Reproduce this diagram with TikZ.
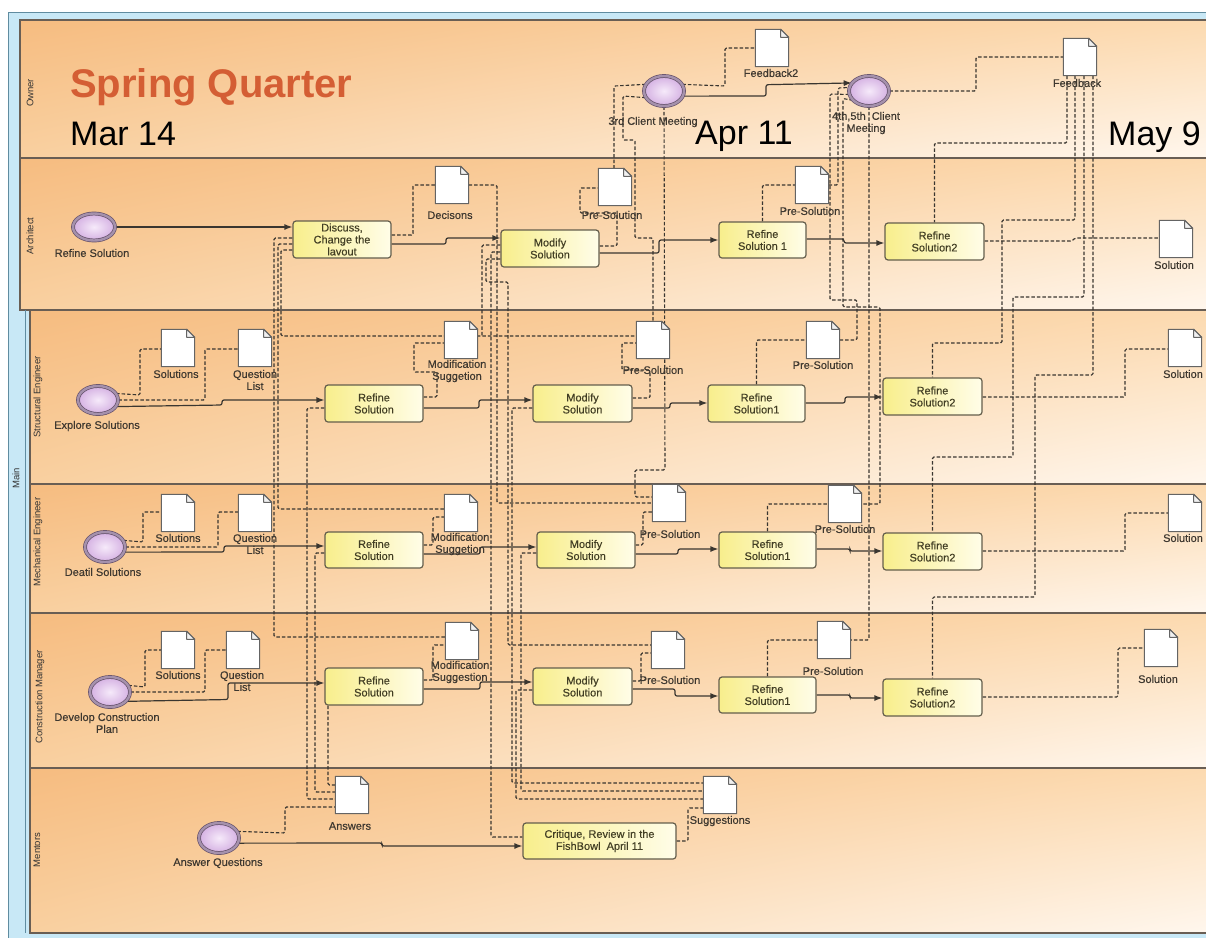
\documentclass[tikz,border=0pt]{standalone}
\usepackage{fontspec}
\setmainfont{Liberation Sans}
\newfontfamily\smallsans[FakeBold=0.3]{Liberation Sans}
\usetikzlibrary{shapes.geometric,arrows.meta,shadings}

\definecolor{poolblue}{RGB}{200,232,246}
\definecolor{poolline}{RGB}{96,140,160}
\definecolor{laneline}{RGB}{105,94,84}
\definecolor{laneUL}{RGB}{246,188,128}
\definecolor{laneUR}{RGB}{252,218,176}
\definecolor{laneLL}{RGB}{249,208,160}
\definecolor{laneLR}{RGB}{255,247,238}
\definecolor{taskL}{RGB}{248,238,140}
\definecolor{taskR}{RGB}{255,253,232}
\definecolor{taskline}{RGB}{100,94,76}
\definecolor{tasktext}{RGB}{66,62,36}
\definecolor{lbltext}{RGB}{62,56,48}
\definecolor{flowc}{RGB}{58,54,48}
\definecolor{docgray}{RGB}{100,100,100}
\definecolor{evdark}{RGB}{100,80,106}
\definecolor{evmid}{RGB}{165,145,172}
\definecolor{evin}{RGB}{246,234,250}
\definecolor{evout}{RGB}{212,176,226}
\definecolor{titleorange}{RGB}{212,94,52}

\newcommand\tsz{\smallsans\fontsize{11}{12}\selectfont}
\newcommand\lsz{\smallsans\fontsize{11}{12}\selectfont}
\newcommand\lnsz{\fontsize{9.5}{10}\selectfont}

\pgfdeclarelayer{bg}
\pgfdeclarelayer{lines}
\pgfsetlayers{bg,lines,main}

\tikzset{
  lanebox/.style={draw=laneline, line width=1.2pt,
    upper left=laneUL, upper right=laneUR, lower left=laneLL, lower right=laneLR},
  evt/.style={ellipse, minimum width=40pt, minimum height=30pt, inner sep=0pt,
    draw=evdark, line width=0.7pt, double=evmid, double distance=2.4pt,
    inner color=evin, outer color=evout},
  task/.style={rectangle, rounded corners=3pt, draw=taskline, line width=1.2pt,
    left color=taskL, right color=taskR, minimum width=98pt, minimum height=37pt,
    align=center, text=tasktext, font=\tsz, inner sep=1pt},
  docbox/.style={rectangle, minimum width=33pt, minimum height=37pt, inner sep=0pt},
  docline/.style={draw=docgray, fill=white, line width=1pt, line join=round},
  lbl/.style={font=\lsz, text=lbltext, align=center, inner sep=0pt},
  lanelbl/.style={font=\lnsz, text=black!80, rotate=90, inner sep=0pt},
  bigdate/.style={anchor=base west, inner sep=0pt, font=\fontsize{34}{34}\selectfont, text=black},
  flow/.style={draw=flowc, line width=1.2pt, rounded corners=2pt, -{Latex[length=8pt,width=6pt]}},
  assoc/.style={draw=flowc, line width=1.1pt, dash pattern=on 3.5pt off 2pt, rounded corners=1.5pt}
}

% document symbol with a folded corner
\newcommand\docnode[2]{%
  \node[docbox] (#1) at (#2) {};
  \filldraw[docline] (#1.north west) -- ([xshift=-8pt]#1.north east)
    -- ([yshift=-8pt]#1.north east) -- (#1.south east) -- (#1.south west) -- cycle;
  \draw[docline, fill=black!6] ([xshift=-8pt]#1.north east)
    -- ([xshift=-8pt,yshift=-8pt]#1.north east) -- ([yshift=-8pt]#1.north east) -- cycle;
}

\begin{document}
\begin{tikzpicture}[x=1pt, y=-1pt]
\useasboundingbox (0,0) rectangle (1206,938);

% ---------- pool and lanes ----------
\begin{pgfonlayer}{bg}
  \fill[white] (0,0) rectangle (1206,938);
  \fill[poolblue] (8,12) rectangle (1206,938);
  \draw[poolline, line width=0.8pt] (1206,12) -- (8,12) -- (8,938);
  \shade[lanebox] (20,20) rectangle (1212,158);
  \shade[lanebox] (20,158) rectangle (1212,310);
  \shade[lanebox] (30,310) rectangle (1212,484);
  \shade[lanebox] (30,484) rectangle (1212,613);
  \shade[lanebox] (30,613) rectangle (1212,768);
  \shade[lanebox] (30,768) rectangle (1212,933);
  \draw[poolline, line width=0.8pt] (25,310) -- (25,933);
\end{pgfonlayer}

% ---------- lane titles ----------
\node[lanelbl] (nMain) at (16,478) {Main};
\node[lanelbl] (nOwner) at (30,93) {Owner};
\node[lanelbl] (nArch) at (30,236) {Architect};
\node[lanelbl] (nStr) at (38,397) {Structural Engineer};
\node[lanelbl] (nMech) at (38,542) {Mechanical Engineer};
\node[lanelbl] (nCM) at (40,697) {Construction Manager};
\node[lanelbl] (nMen) at (37,850) {Mentors};

% ---------- headline and dates ----------
\node[anchor=base west, inner sep=0pt, font=\fontsize{40}{40}\selectfont\bfseries, text=titleorange] (tTitle) at (70,97) {Spring Quarter};
\node[bigdate] (dMar) at (70,145) {Mar 14};
\node[bigdate] (dApr) at (695,144) {Apr 11};
\node[bigdate] (dMay) at (1108,145) {May 9};

% ---------- events ----------
\node[evt, minimum width=42pt, minimum height=27pt] (eArch) at (94,227) {};
\node[evt] (eMeet3) at (664,91) {};
\node[evt] (eMeet4) at (869,91) {};
\node[evt, minimum height=28pt] (eStr) at (98,400) {};
\node[evt] (eMech) at (105,547) {};
\node[evt] (eCM) at (110,692) {};
\node[evt] (eMen) at (219,838) {};

% ---------- tasks ----------
\node[task] (tDiscuss) at (342,239.5) {Discuss,\\Change the\\lavout};
\node[task] (tModA) at (550,248.5) {Modify\\Solution};
\node[task, minimum width=87pt, minimum height=36pt] (tRef1A) at (762.5,240) {Refine\\Solution 1};
\node[task, minimum width=99pt] (tRef2A) at (934.5,241.5) {Refine\\Solution2};

\node[task] (tRefS) at (374,403.5) {Refine\\Solution};
\node[task, minimum width=99pt] (tModS) at (582.5,403.5) {Modify\\Solution};
\node[task, minimum width=97pt] (tRef1S) at (756.5,403.5) {Refine\\Solution1};
\node[task, minimum width=99pt] (tRef2S) at (932.5,396.5) {Refine\\Solution2};

\node[task, minimum height=36pt] (tRefM) at (374,550) {Refine\\Solution};
\node[task, minimum height=36pt] (tModM) at (586,550) {Modify\\Solution};
\node[task, minimum width=97pt, minimum height=36pt] (tRef1M) at (767.5,550) {Refine\\Solution1};
\node[task, minimum width=99pt] (tRef2M) at (932.5,551.5) {Refine\\Solution2};

\node[task] (tRefC) at (374,686.5) {Refine\\Solution};
\node[task, minimum width=99pt] (tModC) at (582.5,686.5) {Modify\\Solution};
\node[task, minimum width=97pt, minimum height=36pt] (tRef1C) at (767.5,695) {Refine\\Solution1};
\node[task, minimum width=99pt] (tRef2C) at (932.5,697.5) {Refine\\Solution2};

\node[task, minimum width=153pt, minimum height=36pt] (tCrit) at (599.5,841) {Critique, Review in the\\FishBowl\ \ April 11};

% ---------- documents ----------
\docnode{dFb2}{772,48}
\docnode{dFb}{1080,57}
\docnode{dDec}{452,185}
\docnode{dPreA1}{615,187}
\docnode{dPreA2}{812,185}
\docnode{dSolA}{1176,239}

\docnode{dSolsS}{178,348}
\docnode{dQS}{255,348}
\docnode{dModS}{461,340}
\docnode{dPreS1}{653,340}
\docnode{dPreS2}{823,340}
\docnode{dSolS}{1185,348}

\docnode{dSolsM}{178,513}
\docnode{dQM}{255,513}
\docnode{dModM}{461,513}
\docnode{dPreM1}{669,503}
\docnode{dPreM2}{845,504}
\docnode{dSolM}{1185,513}

\docnode{dSolsC}{178,650}
\docnode{dQC}{243,650}
\docnode{dModC}{462,641}
\docnode{dPreC1}{668,650}
\docnode{dPreC2}{834,640}
\docnode{dSolC}{1161,648}

\docnode{dAns}{352,795}
\docnode{dSug}{720,795}

% ---------- captions ----------
\node[lbl] (lArch) at (92,253) {Refine Solution};
\node[lbl] (lMeet3) at (653,122) {3rd Client Meeting};
\node[lbl] (lMeet4) at (866,123) {4th,5th\ \ Client\\Meeting};
\node[lbl] (lStr) at (97,426) {Explore Solutions};
\node[lbl] (lMech) at (103,572) {Deatil Solutions};
\node[lbl] (lCM) at (107,723) {Develop Construction\\Plan};
\node[lbl] (lMen) at (218,863) {Answer Questions};

\node[lbl] (lFb2) at (771,73) {Feedback2};
\node[lbl] (lFb) at (1077,83) {Feedback};
\node[lbl] (lDec) at (450,215) {Decisons};
\node[lbl] (lPreA1) at (612,215) {Pre-Solution};
\node[lbl] (lPreA2) at (810,211) {Pre-Solution};
\node[lbl] (lSolA) at (1174,265) {Solution};

\node[lbl] (lSolsS) at (176,374) {Solutions};
\node[lbl] (lQS) at (255,380) {Question\\List};
\node[lbl] (lModS) at (457,371) {Modification\\Suggetion};
\node[lbl] (lPreS1) at (653,370) {Pre-Solution};
\node[lbl] (lPreS2) at (823,365) {Pre-Solution};
\node[lbl] (lSolS) at (1183,374) {Solution};

\node[lbl] (lSolsM) at (178,538) {Solutions};
\node[lbl] (lQM) at (255,544) {Question\\List};
\node[lbl] (lModM) at (460,544) {Modification\\Suggetion};
\node[lbl] (lPreM1) at (670,534) {Pre-Solution};
\node[lbl] (lPreM2) at (845,529) {Pre-Solution};
\node[lbl] (lSolM) at (1183,538) {Solution};

\node[lbl] (lSolsC) at (178,675) {Solutions};
\node[lbl] (lQC) at (242,681) {Question\\List};
\node[lbl] (lModC) at (460,672) {Modification\\Suggestion};
\node[lbl] (lPreC1) at (670,680) {Pre-Solution};
\node[lbl] (lPreC2) at (833,671) {Pre-Solution};
\node[lbl] (lSolC) at (1158,679) {Solution};

\node[lbl] (lAns) at (350,826) {Answers};
\node[lbl] (lSug) at (720,821) {Suggestions};

\coordinate (j1) at (482,336);

% ---------- connectors ----------
\begin{pgfonlayer}{lines}
% sequence flows
\draw[flow] (eArch.east) -- (tDiscuss.west |- eArch.east);
\draw[flow] (tDiscuss.east |- 0,244) -- (446,244) -- (446,238) -- (tModA.west |- 0,238);
\draw[flow] (tModA.east |- 0,253) -- (659,253) -- (659,240) -- (tRef1A.west |- 0,240);
\draw[flow] (tRef1A.east |- 0,239) -- (844,239) -- (844,243) -- (tRef2A.west |- 0,243);
\draw[flow] (eMeet3.-15) -- (766,96) -- (766,84.7) -- (eMeet4.155);

\draw[flow] (eStr.-20) -- (222,405) -- (222,400) -- (tRefS.west |- 0,400);
\draw[flow] (tRefS.east |- 0,408) -- (479,408) -- (479,400) -- (tModS.west |- 0,400);
\draw[flow] (tModS.east |- 0,408) -- (670,408) -- (670,403) -- (tRef1S.west |- 0,403);
\draw[flow] (tRef1S.east |- 0,403) -- (845,403) -- (845,397) -- (tRef2S.west |- 0,397);

\draw[flow] (eMech.-15) -- (224,552) -- (224,546) -- (tRefM.west |- 0,546);
\draw[flow] (tRefM.east |- 0,554) -- (480,554) -- (480,547) -- (tModM.west |- 0,547);
\draw[flow] (tModM.east |- 0,554) -- (678,554) -- (678,549) -- (tRef1M.west |- 0,549);
\draw[flow] (tRef1M.east |- 0,549) -- (850,549) -- (850,551) -- (tRef2M.west |- 0,551);

\draw[flow] (eCM.-30) -- (228,699.5) -- (228,683) -- (tRefC.west |- 0,683);
\draw[flow] (tRefC.east |- 0,689) -- (480,689) -- (480,682) -- (tModC.west |- 0,682);
\draw[flow] (tModC.east |- 0,689) -- (675,689) -- (675,696) -- (tRef1C.west |- 0,696);
\draw[flow] (tRef1C.east |- 0,695) -- (850,695) -- (850,698) -- (tRef2C.west |- 0,698);

\draw[flow] (eMen.-15) -- (382,843) -- (382,846) -- (tCrit.west |- 0,846);

% associations: architect lane
\draw[assoc] (tDiscuss.east |- 0,235) -- (413,235) -- (413,185) -- (dDec.west);
\draw[assoc] (dDec.east) -- (497,185) -- (497,503) -- (dPreM1.west |- 0,503);
\draw[assoc] (tModA.west |- 0,245) -- (482,245) -- (j1);
\draw[assoc] (tDiscuss.west |- 0,250) -- (281,250) -- (281,336) -- (dPreS1.west |- 0,336);
\draw[assoc] (tDiscuss.west |- 0,238) -- (274,238) -- (274,637) -- (dModC.west |- 0,637);
\draw[assoc] (tDiscuss.west |- 0,244) -- (278,244) -- (278,509) -- (dModM.west |- 0,509);
\draw[assoc] (tModA.west |- 0,252) -- (491,252) -- (491,837) -- (tCrit.west |- 0,837);
\draw[assoc] (tModA.west |- 0,259) -- (486,259) -- (486,282) -- (508,282) -- (508,645) -- (dPreC1.west |- 0,645);
\draw[assoc] (tModA.east |- 0,246) -- (617,246) -- (617,213) -- (580,213) -- (580,188) -- (dPreA1.west |- 0,188);
\draw[assoc] (tRef1A.north) -- (tRef1A.north |- 0,185) -- (dPreA2.west |- 0,185);
\draw[assoc] (tRef2A.east |- 0,241) -- (1072,241) -- (1075,238) -- (dSolA.west |- 0,238);

% associations: client meetings
\draw[assoc] (eMeet3.160) -- (614,86) -- (dPreA1.north -| 614,0);
\draw[assoc] (eMeet3.200) -- (623,96) -- (623,140) -- (635,140) -- (635,238) -- (653,238) -- (dPreS1.north);
\draw[assoc] (eMeet3.south) -- (665,470) -- (635,470) -- (635,497) -- (dPreM1.west |- 0,497);
\draw[assoc] (eMeet3.20) -- (725,86) -- (725,48) -- (dFb2.west);
\draw[assoc] (eMeet4.east) -- (976,91) -- (976,57) -- (dFb.west);
\draw[assoc] (dPreA2.east) -- (838,185) -- (838,88) -- (eMeet4.170);
\draw[assoc] (eMeet4.190) -- (830,94) -- (830,300) -- (857,300) -- (857,340) -- (dPreS2.east);
\draw[assoc] (eMeet4.210) -- (843,98.5) -- (843,307) -- (880,307) -- (880,504) -- (dPreM2.east);
\draw[assoc] (eMeet4.south) -- (869,640) -- (dPreC2.east);

% associations: feedback to second refinements
\draw[assoc] (dFb.south -| 1067,0) -- (1067,143) -- (934.5,143) -- (tRef2A.north);
\draw[assoc] (dFb.south -| 1075,0) -- (1075,220) -- (1002,220) -- (1002,343) -- (932.5,343) -- (tRef2S.north);
\draw[assoc] (dFb.south -| 1084,0) -- (1084,297) -- (1013,297) -- (1013,457) -- (932.5,457) -- (tRef2M.north);
\draw[assoc] (dFb.south -| 1093,0) -- (1093,375) -- (1035,375) -- (1035,597) -- (932.5,597) -- (tRef2C.north);

% associations: structural engineer lane
\draw[assoc] (eStr.20) -- (140,395) -- (140,349) -- (dSolsS.west |- 0,349);
\draw[assoc] (eStr.east) -- (205,400) -- (205,349) -- (dQS.west |- 0,349);
\draw[assoc] (tRefS.east |- 0,397) -- (437,397) -- (437,372) -- (414,372) -- (414,343) -- (dModS.west |- 0,343);
\draw[assoc] (tModS.east |- 0,398) -- (650,398) -- (650,370) -- (622,370) -- (622,343) -- (dPreS1.west |- 0,343);
\draw[assoc] (tRef1S.north) -- (tRef1S.north |- 0,340) -- (dPreS2.west);
\draw[assoc] (tRef2S.east |- 0,397) -- (1125,397) -- (1125,349) -- (dSolS.west |- 0,349);

% associations: mechanical engineer lane
\draw[assoc] (eMech.20) -- (143,542) -- (143,512) -- (dSolsM.west |- 0,512);
\draw[assoc] (eMech.east) -- (218,547) -- (218,512) -- (dQM.west |- 0,512);
\draw[assoc] (tRefM.east |- 0,545) -- (433,545) -- (433,517) -- (dModM.west |- 0,517);
\draw[assoc] (tModM.east |- 0,545) -- (643,545) -- (643,512) -- (dPreM1.west |- 0,512);
\draw[assoc] (tRef1M.north) -- (tRef1M.north |- 0,504) -- (dPreM2.west);
\draw[assoc] (tRef2M.east |- 0,551) -- (1125,551) -- (1125,513) -- (dSolM.west);

% associations: construction manager lane
\draw[assoc] (eCM.20) -- (145,687) -- (145,650) -- (dSolsC.west);
\draw[assoc] (eCM.east) -- (205,692) -- (205,650) -- (dQC.west);
\draw[assoc] (tRefC.east |- 0,680) -- (433,680) -- (433,645) -- (dModC.west |- 0,645);
\draw[assoc] (tModC.east |- 0,681) -- (641,681) -- (641,653) -- (dPreC1.west |- 0,653);
\draw[assoc] (tRef1C.north) -- (tRef1C.north |- 0,640) -- (dPreC2.west);
\draw[assoc] (tRef2C.east |- 0,697) -- (1118,697) -- (1118,648) -- (dSolC.west);

% associations: mentors lane
\draw[assoc] (eMen.20) -- (285,833) -- (285,807) -- (dAns.west |- 0,807);
\draw[assoc] (tRefS.west |- 0,408) -- (307,408) -- (307,799) -- (dAns.west |- 0,799);
\draw[assoc] (tRefM.west |- 0,553) -- (315,553) -- (315,792) -- (dAns.west |- 0,792);
\draw[assoc] (tRefC.south -| 328,0) -- (328,785) -- (dAns.west |- 0,785);
\draw[assoc] (tModS.west |- 0,408) -- (512,408) -- (512,783) -- (dSug.west |- 0,783);
\draw[assoc] (tModM.west |- 0,553) -- (521,553) -- (521,791) -- (dSug.west |- 0,791);
\draw[assoc] (tModC.west |- 0,690) -- (516,690) -- (516,799) -- (dSug.west |- 0,799);
\draw[assoc] (tCrit.east |- 0,841) -- (688,841) -- (688,808) -- (dSug.west |- 0,808);
\end{pgfonlayer}
\end{tikzpicture}
\end{document}
